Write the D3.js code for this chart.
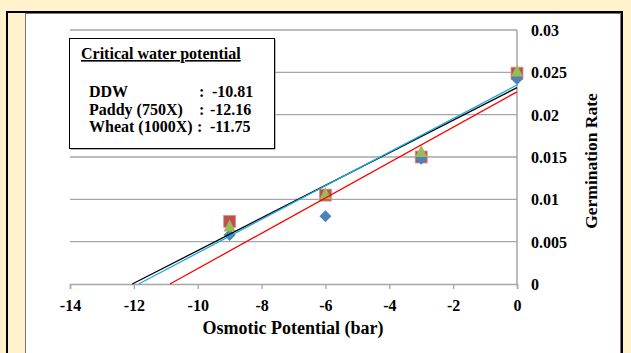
<!DOCTYPE html>
<html><head><meta charset="utf-8">
<script src="https://cdn.jsdelivr.net/npm/d3@7"></script>
<style>body{margin:0;background:#fff2cc;} svg{display:block;font-family:"Liberation Serif","Times New Roman",serif;}</style>
</head><body>
<svg id="c" width="631" height="353"></svg>
<script>
const xValues = [-9, -6, -3, 0];
const ddw = [0.0058, 0.0080, 0.0148, 0.0242];
const paddy = [0.0074, 0.0105, 0.0150, 0.0249];
const wheat = [0.0068, 0.0106, 0.0156, 0.0251];
const xTicks = [-14, -12, -10, -8, -6, -4, -2, 0];
const yTicks = [0, 0.005, 0.01, 0.015, 0.02, 0.025, 0.03];
const yTickLabels = ["0", "0.005", "0.01", "0.015", "0.02", "0.025", "0.03"];
const trendNames = ["black", "cyan", "red"];
const trendX0 = [-12.05, -11.85, -10.87];
const trendYAt0 = [0.0232, 0.0235, 0.0227];
const legendNames = ["DDW", "Paddy (750X)", "Wheat (1000X)"];
const legendValues = ["-10.81", "-12.16", "-11.75"];

const svg = d3.select("#c");
// frames
svg.append("rect").attr("x",7).attr("y",12).attr("width",615).attr("height",360)
  .attr("fill","#fff2cc").attr("stroke","#000").attr("stroke-width",2);
svg.append("rect").attr("x",25.5).attr("y",13.5).attr("width",595).attr("height",360)
  .attr("fill","#fff").attr("stroke","#777").attr("stroke-width",1);

const x = d3.scaleLinear().domain([-14,0]).range([70,517]);
const y = d3.scaleLinear().domain([0,0.03]).range([284,30]);

// gridlines
svg.append("g").selectAll("line").data(yTicks.slice(1)).join("line")
  .attr("x1",x(-14)).attr("x2",x(0)).attr("y1",d=>y(d)).attr("y2",d=>y(d))
  .attr("stroke","#a6a6a6").attr("stroke-width",1.3);
// y axis line
svg.append("line").attr("x1",x(0)).attr("x2",x(0)).attr("y1",y(0.03)).attr("y2",y(0))
  .attr("stroke","#a6a6a6").attr("stroke-width",1.5);
// x axis
const xa = svg.append("g").attr("transform",`translate(0,${y(0)})`)
  .call(d3.axisBottom(x).tickValues(xTicks).tickSize(5).tickFormat(d3.format("d")));
xa.select(".domain").attr("stroke","#a6a6a6").attr("stroke-width",1.5);
xa.selectAll(".tick line").attr("stroke","#a6a6a6").attr("stroke-width",1.3);
xa.selectAll(".tick text").attr("fill","#000").attr("font-size",16).attr("font-weight","bold")
  .attr("font-family","Liberation Serif").attr("y",27).attr("dy",null)
  .text(d=>d===0?"0":"-"+Math.abs(d));
// y labels
svg.append("g").selectAll("text").data(yTicks).join("text")
  .attr("x",531).attr("y",d=>y(d)+6).attr("font-size",16).attr("font-weight","bold")
  .text((d,i)=>yTickLabels[i]);

// titles
svg.append("text").attr("x",293).attr("y",334).attr("text-anchor","middle")
  .attr("font-size",18).attr("font-weight","bold").text("Osmotic Potential (bar)");
svg.append("text").attr("transform","translate(597,161) rotate(-90)").attr("text-anchor","middle")
  .attr("font-size",17.5).attr("font-weight","bold").text("Germination Rate");

// markers
const gm = svg.append("g");
gm.selectAll(".sq").data(xValues).join("rect")
  .attr("x",(d,i)=>x(d)-6).attr("y",(d,i)=>y(paddy[i])-6).attr("width",12).attr("height",12)
  .attr("fill","#c0504d").attr("stroke","#d99694").attr("stroke-width",0.8);
gm.selectAll(".dm").data(xValues).join("path")
  .attr("d",(d,i)=>{const cx=x(d),cy=y(ddw[i]),r=6;return `M${cx},${cy-r}L${cx+r},${cy}L${cx},${cy+r}L${cx-r},${cy}Z`;})
  .attr("fill","#4f81bd");
gm.selectAll(".tr").data(xValues).join("path")
  .attr("d",(d,i)=>{const cx=x(d),cy=y(wheat[i]);return `M${cx},${cy-7}L${cx+6},${cy+5}L${cx-6},${cy+5}Z`;})
  .attr("fill","#9bbb59");

// trend lines
const colors = {black:"#000", cyan:"#1ba8e0", red:"#ff0000"};
svg.append("g").selectAll("line").data(trendNames).join("line")
  .attr("x1",(d,i)=>x(trendX0[i])).attr("y1",y(0)).attr("x2",x(0)).attr("y2",(d,i)=>y(trendYAt0[i]))
  .attr("stroke",d=>colors[d]).attr("stroke-width",1.3);

// legend box
const lg = svg.append("g");
lg.append("rect").attr("x",70.5).attr("y",39.5).attr("width",205).attr("height",110).attr("fill","#777");
lg.append("rect").attr("x",69.5).attr("y",38.5).attr("width",205).attr("height",110)
  .attr("fill","#fff").attr("stroke","#000").attr("stroke-width",1);
lg.append("text").attr("x",81).attr("y",59).attr("font-size",16).attr("font-weight","bold")
  .attr("text-decoration","underline").text("Critical water potential");
const rowsY = [97, 115, 132];
lg.selectAll(".n").data(legendNames).join("text").attr("x",89).attr("y",(d,i)=>rowsY[i])
  .attr("font-size",16).attr("font-weight","bold").text(d=>d);
lg.selectAll(".c").data(legendNames).join("text").attr("x",(d,i)=>i===2?197:199).attr("y",(d,i)=>rowsY[i])
  .attr("font-size",16).attr("font-weight","bold").text(":");
lg.selectAll(".v").data(legendValues).join("text").attr("x",(d,i)=>i===0?212:210).attr("y",(d,i)=>rowsY[i])
  .attr("font-size",16).attr("font-weight","bold").text(d=>d);
</script>
</body></html>
